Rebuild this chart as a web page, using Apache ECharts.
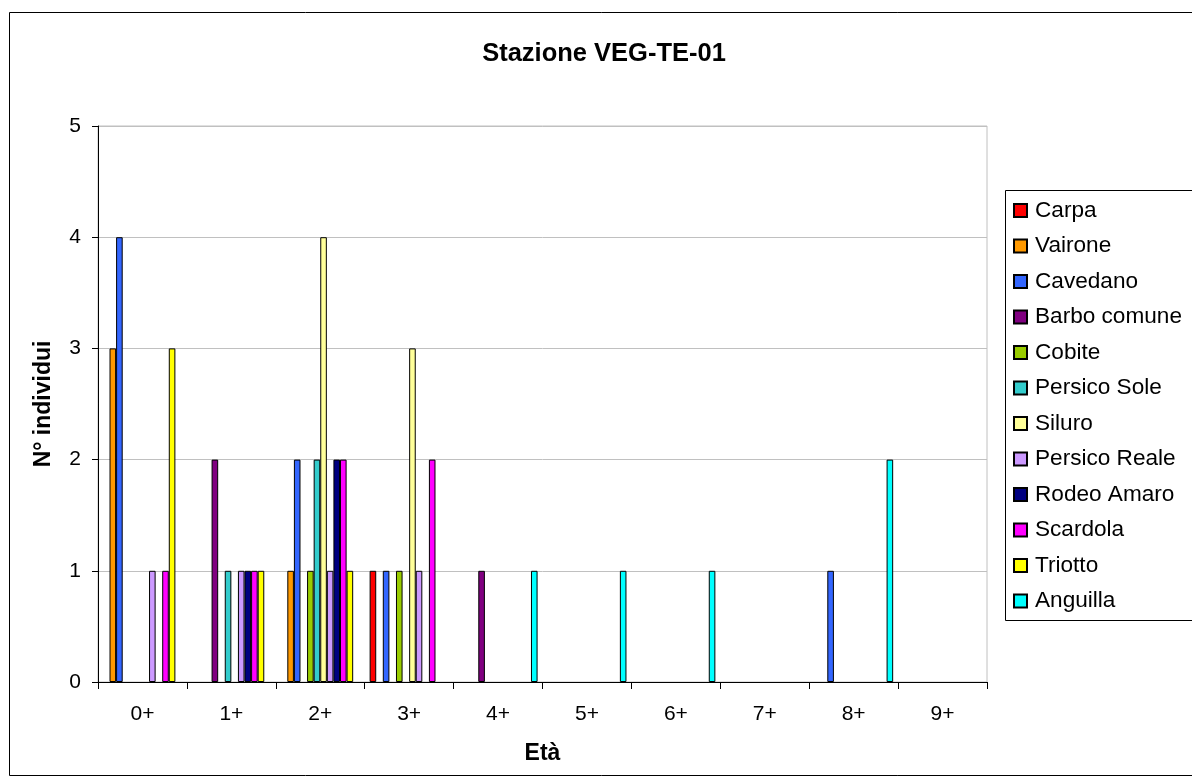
<!DOCTYPE html>
<html>
<head>
<meta charset="utf-8">
<script src="https://cdn.jsdelivr.net/npm/echarts@6/dist/echarts.min.js"></script>
<style>
html,body{margin:0;padding:0;background:#fff;}
#chart{width:1192px;height:783px;}
</style>
</head>
<body>
<div id="chart"></div>
<script>
var categories = ['0+','1+','2+','3+','4+','5+','6+','7+','8+','9+'];
var seriesNames = ['Carpa','Vairone','Cavedano','Barbo comune','Cobite','Persico Sole','Siluro','Persico Reale','Rodeo Amaro','Scardola','Triotto','Anguilla'];
var carpa        = [0,0,0,1,0,0,0,0,0,0];
var vairone      = [3,0,1,0,0,0,0,0,0,0];
var cavedano     = [4,0,2,1,0,0,0,0,1,0];
var barboComune  = [0,2,0,0,1,0,0,0,0,0];
var cobite       = [0,0,1,1,0,0,0,0,0,0];
var persicoSole  = [0,1,2,0,0,0,0,0,0,0];
var siluro       = [0,0,4,3,0,0,0,0,0,0];
var persicoReale = [1,1,1,1,0,0,0,0,0,0];
var rodeoAmaro   = [0,1,2,0,0,0,0,0,0,0];
var scardola     = [1,1,2,2,0,0,0,0,0,0];
var triotto      = [3,1,1,0,0,0,0,0,0,0];
var anguilla     = [0,0,0,0,1,1,1,0,2,0];
var yTicks = [0,1,2,3,4,5];
var colors = ['#FF0000','#FF9900','#3366FF','#800080','#99CC00','#33CCCC','#FFFF99','#CC99FF','#000080','#FF00FF','#FFFF00','#00FFFF'];

var allData = [carpa,vairone,cavedano,barboComune,cobite,persicoSole,siluro,persicoReale,rodeoAmaro,scardola,triotto,anguilla];
var FONT = '"Liberation Sans", Arial, sans-serif';

var series = seriesNames.map(function(n,i){
  return {
    name:n, type:'bar',
    data:allData[i].map(function(v){ return v === 0 ? '-' : v; }),
    barGap:'0%', barCategoryGap:'11.1%',
    itemStyle:{color:colors[i], borderColor:'#000', borderWidth:1},
    emphasis:{disabled:true}
  };
});

var chart = echarts.init(document.getElementById('chart'), null, {renderer:'canvas'});
chart.setOption({
  animation:false,
  backgroundColor:'#fff',
  textStyle:{fontFamily:FONT},
  title:{
    text:'Stazione VEG-TE-01',
    left:604, top:41, textAlign:'center', padding:0,
    textStyle:{fontFamily:FONT, fontSize:25.5, fontWeight:'bold', color:'#000'}
  },
  graphic:[
    {type:'rect', shape:{x:9.5,y:12.5,width:1200,height:763}, style:{fill:null, stroke:'#000', lineWidth:1}, z:-10},
    {type:'rect', shape:{x:1005.5,y:190.5,width:220,height:430}, style:{fill:'#fff', stroke:'#000', lineWidth:1}, z:-5}
  ],
  legend:{
    orient:'vertical', left:1013, top:199, padding:0,
    itemWidth:13, itemHeight:13, itemGap:12.5,
    icon:'rect',
    data:seriesNames,
    textStyle:{fontFamily:FONT, fontSize:22.6, lineHeight:22, color:'#000', padding:[0,0,0,3]},
    selectedMode:false
  },
  grid:{left:98, top:126, right:205, bottom:101, show:true, borderColor:'#c0c0c0', borderWidth:1, containLabel:false},
  xAxis:{
    type:'category', data:categories,
    name:'Età', nameLocation:'middle', nameGap:60,
    nameTextStyle:{fontFamily:FONT, fontSize:23, fontWeight:'bold', color:'#000'},
    axisLine:{lineStyle:{color:'#000', width:1}},
    axisTick:{show:true, length:7, lineStyle:{color:'#000'}},
    axisLabel:{fontFamily:FONT, fontSize:21, color:'#000', margin:22},
    splitLine:{show:false}
  },
  yAxis:{
    type:'value', min:yTicks[0], max:yTicks[yTicks.length-1], interval:1,
    name:'N° individui', nameLocation:'middle', nameGap:43, nameRotate:90,
    nameTextStyle:{fontFamily:FONT, fontSize:23, fontWeight:'bold', color:'#000'},
    axisLine:{show:true, lineStyle:{color:'#000', width:1}},
    axisTick:{show:true, length:6, lineStyle:{color:'#000'}},
    axisLabel:{fontFamily:FONT, fontSize:21, color:'#000', margin:17},
    splitLine:{show:true, lineStyle:{color:'#c0c0c0', width:1}}
  },
  series:series
});
</script>
</body>
</html>
